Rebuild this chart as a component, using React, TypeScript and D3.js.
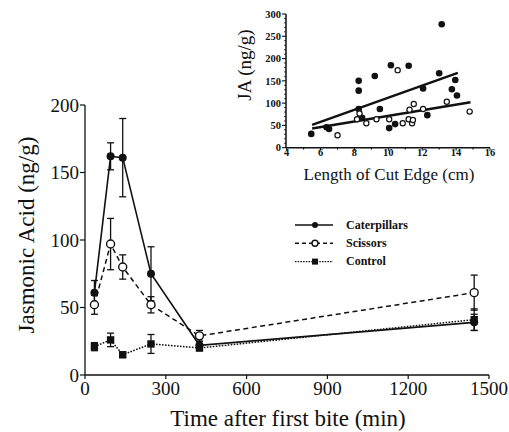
import React, { useEffect, useRef } from 'react';
import * as d3 from 'd3';

// main panel: jasmonic acid over time
const times = [35, 95, 140, 245, 425, 1445];
const caterpillars = [61, 162, 161, 75, 22, 39];
const caterpillarsErr = [9, 10, 29, 20, 3, 6];
const scissors = [52, 97, 80, 52, 29, 61];
const scissorsErr = [7, 19, 9, 6, 4, 13];
const control = [21, 26, 15, 23, 20, 41];
const controlErr = [3, 5, 2, 7, 2, 8];
const xTicks = [0, 300, 600, 900, 1200, 1500];
const yTicks = [0, 50, 100, 150, 200];
const seriesNames = ['Caterpillars', 'Scissors', 'Control'];

// inset: JA vs length of cut edge
const cutFilledX = [5.45, 6.35, 6.5, 8.25, 8.25, 8.25, 8.45, 9.2, 9.5, 10.05, 10.15, 10.4, 11.2, 12.05, 12.3, 13.0, 13.15, 13.75, 13.95, 14.05];
const cutFilledY = [31, 46, 42, 150, 128, 87, 67, 161, 87, 44, 185, 53, 184, 133, 73, 167, 277, 131, 152, 117];
const cutOpenX = [7.0, 8.15, 8.3, 8.7, 9.3, 10.05, 10.55, 10.85, 11.2, 11.25, 11.4, 11.45, 11.5, 12.05, 13.45, 14.8];
const cutOpenY = [28, 64, 77, 55, 64, 64, 174, 55, 64, 85, 55, 62, 98, 87, 103, 81];
const fitFilledX = [5.5, 14.1];
const fitFilledY = [51, 168];
const fitOpenX = [5.5, 14.85];
const fitOpenY = [43, 102];
const insetXTicks = [4, 6, 8, 10, 12, 14, 16];
const insetYTicks = [0, 50, 100, 150, 200, 250, 300];

const FONT = "'Liberation Serif', 'Times New Roman', serif";

export default function App() {
  const ref = useRef<SVGSVGElement>(null);

  useEffect(() => {
    const svg = d3.select(ref.current);
    svg.selectAll('*').remove();

    const x = d3.scaleLinear().domain([0, 1500]).range([85, 489]);
    const y = d3.scaleLinear().domain([0, 200]).range([375, 105]);

    // axes
    svg.append('line').attr('x1', 85).attr('x2', 489).attr('y1', 375).attr('y2', 375)
      .attr('stroke', '#111').attr('stroke-width', 1.3);
    svg.append('line').attr('x1', 85).attr('x2', 85).attr('y1', 105).attr('y2', 375)
      .attr('stroke', '#111').attr('stroke-width', 1.3);

    xTicks.forEach(t => {
      svg.append('line').attr('x1', x(t)).attr('x2', x(t)).attr('y1', 375).attr('y2', 379)
        .attr('stroke', '#111').attr('stroke-width', 1.2);
      svg.append('text').attr('x', x(t)).attr('y', 395).attr('text-anchor', 'middle')
        .attr('font-family', FONT).attr('font-size', 19).attr('fill', '#111').text(t);
    });
    yTicks.forEach(t => {
      svg.append('line').attr('x1', 80).attr('x2', 85).attr('y1', y(t)).attr('y2', y(t))
        .attr('stroke', '#111').attr('stroke-width', 1.2);
      svg.append('text').attr('x', 79).attr('y', y(t)).attr('dy', '0.35em').attr('text-anchor', 'end')
        .attr('font-family', FONT).attr('font-size', 19).attr('fill', '#111').text(t);
    });

    svg.append('text').attr('x', 288).attr('y', 426).attr('text-anchor', 'middle')
      .attr('font-family', FONT).attr('font-size', 23).attr('fill', '#111')
      .text('Time after first bite (min)');
    svg.append('text').attr('transform', 'translate(34,235) rotate(-90)').attr('text-anchor', 'middle')
      .attr('font-family', FONT).attr('font-size', 23).attr('fill', '#111')
      .text('Jasmonic Acid (ng/g)');

    const series = [
      { vals: caterpillars, err: caterpillarsErr, dash: null, marker: 'filled' },
      { vals: scissors, err: scissorsErr, dash: '5,3.5', marker: 'open' },
      { vals: control, err: controlErr, dash: '1.6,1.4', marker: 'square' },
    ];

    const line = d3.line<number>().x((d, i) => x(times[i])).y(d => y(d));

    function drawMarker(g: any, kind: string, cx: number, cy: number, r: number) {
      if (kind === 'square') {
        g.append('rect').attr('x', cx - r).attr('y', cy - r).attr('width', 2 * r).attr('height', 2 * r)
          .attr('fill', '#111');
      } else if (kind === 'open') {
        g.append('circle').attr('cx', cx).attr('cy', cy).attr('r', r)
          .attr('fill', '#fff').attr('stroke', '#111').attr('stroke-width', 1.4);
      } else {
        g.append('circle').attr('cx', cx).attr('cy', cy).attr('r', r).attr('fill', '#111');
      }
    }

    // error bars first
    series.forEach(s => {
      s.vals.forEach((v, i) => {
        const cx = x(times[i]);
        const g = svg.append('g').attr('stroke', '#111').attr('stroke-width', 1.3);
        g.append('line').attr('x1', cx).attr('x2', cx).attr('y1', y(v - s.err[i])).attr('y2', y(v + s.err[i]));
        [v - s.err[i], v + s.err[i]].forEach(e => {
          g.append('line').attr('x1', cx - 3.5).attr('x2', cx + 3.5).attr('y1', y(e)).attr('y2', y(e));
        });
      });
    });

    series.forEach(s => {
      const p = svg.append('path').attr('d', line(s.vals)).attr('fill', 'none')
        .attr('stroke', '#111').attr('stroke-width', s.marker === 'filled' ? 1.6 : 1.5);
      if (s.dash) p.attr('stroke-dasharray', s.dash);
    });

    series.forEach(s => {
      s.vals.forEach((v, i) => {
        drawMarker(svg, s.marker, x(times[i]), y(v), s.marker === 'square' ? 3.7 : 4);
      });
    });

    // legend
    seriesNames.forEach((name, i) => {
      const ly = 225 + i * 18.3;
      const l = svg.append('line').attr('x1', 295).attr('x2', 333).attr('y1', ly).attr('y2', ly)
        .attr('stroke', '#111').attr('stroke-width', 1.4);
      if (series[i].dash) l.attr('stroke-dasharray', i === 1 ? '4,3' : '1.5,1.2');
      drawMarker(svg, series[i].marker, 315, ly, i === 2 ? 3 : 3);
      svg.append('text').attr('x', 346).attr('y', ly + 3.8)
        .attr('font-family', FONT).attr('font-size', 12).attr('font-weight', 'bold').attr('fill', '#111')
        .text(name);
    });

    // inset
    const ix = d3.scaleLinear().domain([4, 16]).range([286.7, 490]);
    const iy = d3.scaleLinear().domain([0, 300]).range([147.7, 14]);

    svg.append('line').attr('x1', 286).attr('x2', 490).attr('y1', iy(0)).attr('y2', iy(0))
      .attr('stroke', '#111').attr('stroke-width', 1.5);
    svg.append('line').attr('x1', 286).attr('x2', 286).attr('y1', iy(0)).attr('y2', iy(300))
      .attr('stroke', '#111').attr('stroke-width', 1.5);

    d3.range(4, 16.01, 1).forEach(t => {
      svg.append('line').attr('x1', ix(t)).attr('x2', ix(t)).attr('y1', iy(0)).attr('y2', iy(0) + (t % 2 === 0 ? 3 : 2))
        .attr('stroke', '#111').attr('stroke-width', 1);
    });
    insetXTicks.forEach(t => {
      svg.append('text').attr('x', ix(t)).attr('y', 156).attr('text-anchor', 'middle')
        .attr('font-family', FONT).attr('font-size', 10.5).attr('font-weight', 'bold').attr('fill', '#111').text(t);
    });
    d3.range(0, 300.1, 10).forEach(t => {
      const major = t % 50 === 0;
      svg.append('line').attr('x1', 286 - (major ? 4 : 2)).attr('x2', 286).attr('y1', iy(t)).attr('y2', iy(t))
        .attr('stroke', '#111').attr('stroke-width', major ? 1.1 : 0.8);
    });
    insetYTicks.forEach(t => {
      svg.append('text').attr('x', 281).attr('y', iy(t)).attr('dy', '0.35em').attr('text-anchor', 'end')
        .attr('font-family', FONT).attr('font-size', 10.5).attr('font-weight', 'bold').attr('fill', '#111').text(t);
    });

    svg.append('text').attr('x', 389).attr('y', 180).attr('text-anchor', 'middle')
      .attr('font-family', FONT).attr('font-size', 17).attr('fill', '#111')
      .text('Length of Cut Edge (cm)');
    svg.append('text').attr('transform', 'translate(251,65) rotate(-90)').attr('text-anchor', 'middle')
      .attr('font-family', FONT).attr('font-size', 19).attr('fill', '#111')
      .text('JA (ng/g)');

    // regression lines
    const fit = d3.line<number>();
    [[fitFilledX, fitFilledY], [fitOpenX, fitOpenY]].forEach(([fx, fy]) => {
      svg.append('path')
        .attr('d', fit(fx.map((v, i) => [ix(v), iy(fy[i])]) as any))
        .attr('stroke', '#111').attr('stroke-width', 2.4).attr('fill', 'none');
    });

    cutFilledX.forEach((v, i) => {
      svg.append('circle').attr('cx', ix(v)).attr('cy', iy(cutFilledY[i])).attr('r', 3.3).attr('fill', '#111');
    });
    cutOpenX.forEach((v, i) => {
      svg.append('circle').attr('cx', ix(v)).attr('cy', iy(cutOpenY[i])).attr('r', 2.6)
        .attr('fill', '#fff').attr('stroke', '#111').attr('stroke-width', 1.2);
    });
  }, []);

  return (
    <svg ref={ref} width={509} height={432}
      style={{ position: 'absolute', left: 0, top: 0, background: '#fff' }} />
  );
}
